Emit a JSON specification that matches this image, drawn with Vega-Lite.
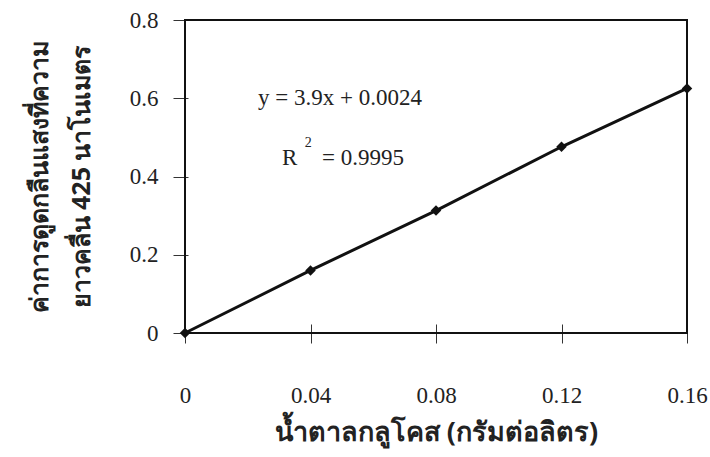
{
  "$schema": "https://vega.github.io/schema/vega-lite/v6.json",
  "width": 502,
  "height": 313,
  "autosize": "none",
  "padding": {"left": 185, "top": 20, "right": 23, "bottom": 124},
  "background": "white",
  "config": {
    "view": {"stroke": null},
    "font": "Liberation Serif"
  },
  "datasets": {
    "points": [
      {"glucose": 0, "absorbance": 0},
      {"glucose": 0.04, "absorbance": 0.16},
      {"glucose": 0.08, "absorbance": 0.313},
      {"glucose": 0.12, "absorbance": 0.476},
      {"glucose": 0.16, "absorbance": 0.625}
    ],
    "frame": [
      {"x0": 0, "x1": 0.16, "y0": 0, "y1": 0.8}
    ],
    "notes": [
      {"gx": 0.0233, "ay": 0.6, "label": "y = 3.9x + 0.0024", "kind": "main"},
      {"gx": 0.0309, "ay": 0.447, "label": "R", "kind": "main"},
      {"gx": 0.0382, "ay": 0.486, "label": "2", "kind": "sup"},
      {"gx": 0.0437, "ay": 0.447, "label": "= 0.9995", "kind": "main"}
    ]
  },
  "layer": [
    {
      "data": {"name": "frame"},
      "mark": {"type": "rect", "fillOpacity": 0, "fill": "white", "stroke": "#111", "strokeWidth": 2, "clip": false},
      "encoding": {
        "x": {"field": "x0", "type": "quantitative"},
        "x2": {"field": "x1"},
        "y": {"field": "y0", "type": "quantitative"},
        "y2": {"field": "y1"}
      }
    },
    {
      "data": {"name": "points"},
      "mark": {"type": "line", "color": "#111", "strokeWidth": 3},
      "encoding": {
        "x": {
          "field": "glucose", "type": "quantitative",
          "scale": {"domain": [0, 0.16], "nice": false},
          "axis": {
            "values": [0, 0.04, 0.08, 0.12, 0.16],
            "format": "~g",
            "title": "น้ำตาลกลูโคส (กรัมต่อลิตร)",
            "titleFont": "Noto Sans", "titleFontSize": 27, "titleFontWeight": "bold",
            "titleColor": "#222", "titlePadding": 12,
            "labelFontSize": 23, "labelColor": "#222", "labelPadding": 41,
            "labelFlush": false,
            "domain": false, "grid": false, "offset": -9, "tickSize": 19,
            "tickColor": "#333", "tickWidth": 1
          }
        },
        "y": {
          "field": "absorbance", "type": "quantitative",
          "scale": {"domain": [0, 0.8], "nice": false},
          "axis": {
            "values": [0, 0.2, 0.4, 0.6, 0.8],
            "format": "~g",
            "title": ["ค่าการดูดกลืนแสงที่ความ", "ยาวคลื่น 425 นาโนเมตร"],
            "titleFont": "Noto Sans", "titleFontSize": 25, "titleFontWeight": "bold",
            "titleColor": "#222", "titleLineHeight": 42, "titlePadding": 35,
            "labelFontSize": 23, "labelColor": "#222", "labelPadding": 15,
            "domain": false, "grid": false, "offset": -3, "tickSize": 15,
            "tickColor": "#333", "tickWidth": 1
          }
        }
      }
    },
    {
      "data": {"name": "points"},
      "mark": {"type": "point", "shape": "diamond", "filled": true, "color": "#111", "size": 110, "opacity": 1},
      "encoding": {
        "x": {"field": "glucose", "type": "quantitative"},
        "y": {"field": "absorbance", "type": "quantitative"}
      }
    },
    {
      "data": {"name": "notes"},
      "transform": [{"filter": "datum.kind === 'main'"}],
      "mark": {"type": "text", "align": "left", "baseline": "middle", "fontSize": 23, "color": "#222"},
      "encoding": {
        "x": {"field": "gx", "type": "quantitative"},
        "y": {"field": "ay", "type": "quantitative"},
        "text": {"field": "label"}
      }
    },
    {
      "data": {"name": "notes"},
      "transform": [{"filter": "datum.kind === 'sup'"}],
      "mark": {"type": "text", "align": "left", "baseline": "middle", "fontSize": 14, "color": "#222"},
      "encoding": {
        "x": {"field": "gx", "type": "quantitative"},
        "y": {"field": "ay", "type": "quantitative"},
        "text": {"field": "label"}
      }
    }
  ]
}
